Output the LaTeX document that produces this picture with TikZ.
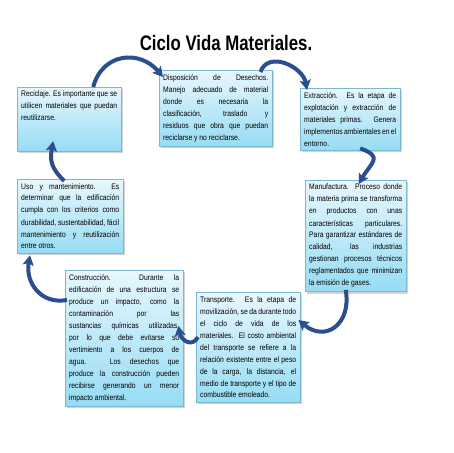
\documentclass[tikz,border=0pt]{standalone}
\usepackage{fontspec}
\setmainfont{Liberation Sans}[FakeStretch=0.85]
\newfontfamily\titulofont{Liberation Sans}[FakeStretch=0.8]
\usepackage{tikz}
\definecolor{cicloazul}{RGB}{42, 78, 142}
\definecolor{cajaborde}{RGB}{125, 185, 205}
\definecolor{cajaclaro}{RGB}{232, 247, 253}
\definecolor{cajaoscuro}{RGB}{150, 220, 244}
\usetikzlibrary{shapes,arrows,arrows.meta,positioning,shadows}

\begin{document}
\begin{tikzpicture}[x=1pt, y=1pt,
    etapa/.style={rectangle, draw=cajaborde, top color=cajaclaro, bottom color=cajaoscuro, drop shadow={opacity=0.35, shadow xshift=2pt, shadow yshift=-2pt}, inner sep=4pt, anchor=north west, align=justify, font=\fontsize{8}{12}\selectfont},
    flecha/.style={-{Stealth[length=10pt, width=11pt, inset=2pt]}, line width=4pt, cicloazul}]
    \useasboundingbox (0,0) rectangle (453,-453);

    \node[anchor=base, font=\titulofont\bfseries\fontsize{21}{24}\selectfont] (titulo) at (226,-50) {Ciclo Vida Materiales.};

    \node[etapa, text width=96pt, text depth=50pt] (reciclaje) at (17,-87) {Reciclaje. Es importante que se\linebreak utilicen materiales que puedan\linebreak reutilizarse.};
    \node[etapa, text width=105pt] (disposicion) at (159,-70) {Disposición de Desechos.\linebreak Manejo adecuado de material\linebreak donde es necesaria la\linebreak clasificación, traslado y\linebreak residuos que obra que puedan\linebreak reciclarse y no reciclarse.};
    \node[etapa, text width=92pt] (extraccion) at (300,-88) {Extracción. Es la etapa de\linebreak explotación y extracción de\linebreak materiales primas. Genera\linebreak implementos ambientales en el\linebreak entorno.};
    \node[etapa, text width=98pt] (uso) at (17,-179) {Uso y mantenimiento. Es\linebreak determinar que la edificación\linebreak cumpla con los criterios como\linebreak durabilidad, sustentabilidad, fácil\linebreak mantenimiento y reutilización\linebreak entre otros.};
    \node[etapa, text width=93pt] (manufactura) at (305,-180) {Manufactura. Proceso donde\linebreak la materia prima se transforma\linebreak en productos con unas\linebreak características particulares.\linebreak Para garantizar estándares de\linebreak calidad, las industrias\linebreak gestionan procesos técnicos\linebreak reglamentados que minimizan\linebreak la emisión de gases.};
    \node[etapa, text width=110pt] (construccion) at (65,-270) {Construcción. Durante la\linebreak edificación de una estructura se\linebreak produce un impacto, como la\linebreak contaminación por las\linebreak sustancias químicas utilizadas,\linebreak por lo que debe evitarse su\linebreak vertimiento a los cuerpos de\linebreak agua. Los desechos que\linebreak produce la construcción pueden\linebreak recibirse generando un menor\linebreak impacto ambiental.};
    \node[etapa, text width=96pt] (transporte) at (196,-292) {Transporte. Es la etapa de\linebreak movilización, se da durante todo\linebreak el ciclo de vida de los\linebreak materiales. El costo ambiental\linebreak del transporte se refiere a la\linebreak relación existente entre el peso\linebreak de la carga, la distancia, el\linebreak medio de transporte y el tipo de\linebreak combustible emoleado.};

    \draw[flecha] ([xshift=24pt]reciclaje.north) to[out=75, in=130, looseness=1.3] ([xshift=4pt, yshift=-7pt]disposicion.north west);
    \draw[flecha] ([xshift=-12pt, yshift=-2pt]disposicion.north east) to[out=70, in=100, looseness=1.2] ([xshift=7pt, yshift=-2pt]extraccion.north west);
    \draw[flecha] ([xshift=10pt, yshift=2pt]extraccion.south) to[out=-20, in=60, looseness=1.8] ([xshift=3pt, yshift=-4pt]manufactura.north);
    \draw[flecha] ([xshift=-10pt, yshift=2pt]manufactura.south) to[out=-80, in=-40, looseness=1.6] ([xshift=-2pt, yshift=-28pt]transporte.north east);
    \draw[flecha] ([xshift=2pt, yshift=10pt]transporte.west) to[out=-120, in=-80, looseness=1.5] ([xshift=-5pt, yshift=12pt]construccion.east);
    \draw[flecha] ([xshift=2pt, yshift=-30pt]construccion.north west) to[out=190, in=-100, looseness=1.2] ([xshift=13pt, yshift=-2pt]uso.south west);
    \draw[flecha] ([xshift=-6pt, yshift=-2pt]uso.north) to[out=135, in=-100, looseness=1.2] ([xshift=-16pt, yshift=10pt]reciclaje.south);
\end{tikzpicture}
\end{document}
